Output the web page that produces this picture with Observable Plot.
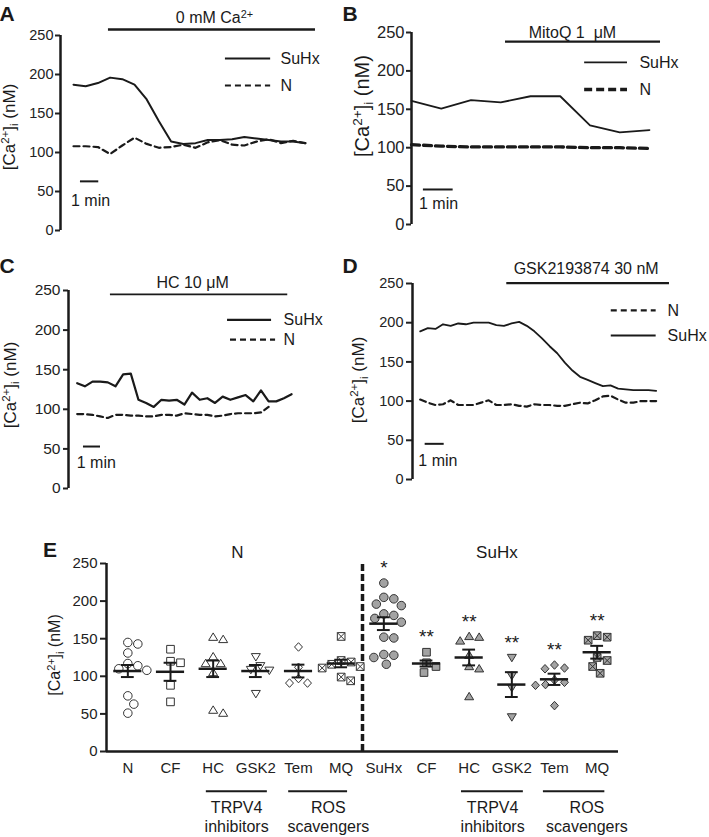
<!DOCTYPE html>
<html><head><meta charset="utf-8">
<script src="https://cdn.jsdelivr.net/npm/d3@7"></script>
<script src="https://cdn.jsdelivr.net/npm/@observablehq/plot@0.6"></script>
<style>
body{margin:0;background:#fff;}
#fig{position:relative;width:709px;height:837px;background:#fff;overflow:hidden;font-family:"Liberation Sans",Arial,Helvetica,sans-serif;}
.panel{position:absolute;}
</style></head>
<body><div id="fig"></div>
<script>
// ---------------- DATA ----------------
const yTicks = [0, 50, 100, 150, 200, 250];

// Panel A (0 mM Ca2+), sampled every 40 s
const aSuHx = [187,185,189,196,194,187,168,140,114,111,112,116,116,117,120,118,116,114,114,112];
const aN    = [108,108,107,98,109,119,111,106,107,110,106,113,116,110,109,114,117,112,115,112];
const aStep = 2/3;

// Panel B (MitoQ 1 uM), sampled every 1 min
const bSuHx = [161,151,162,159,167,167,129,120,123];
const bN    = [104,102,101,101,101,101,100,100,99];
const bStep = 1;

// Panel C (HC 10 uM)
const cSuHx = [133,129,135,135,134,129,144,145,112,108,103,112,111,112,106,121,112,114,108,116,112,115,118,110,124,110,110,114,119];
const cN    = [94,94,93,91,89,93,93,92,92,91,91,93,93,92,95,94,93,93,91,92,94,95,95,95,96,103];
const cStep = 0.44;

// Panel D (GSK2193874 30 nM)
const dSuHx = [189,193,192,198,196,199,198,200,200,200,197,196,199,201,196,189,180,170,161,149,139,131,127,123,119,120,116,115,114,114,114,113];
const dN    = [102,98,95,96,101,95,95,95,98,101,95,95,96,94,93,96,95,95,94,94,96,98,97,101,106,107,102,98,98,100,100,100];
const dStep = 0.4;

// Panel E
const eCategories = ["N","CF","HC","GSK2","Tem","MQ","SuHx","CF","HC","GSK2","Tem","MQ"];
const eN_N    = [145,143,131,117,114,110,108,74,63,51];
const eN_CF   = [136,120,118,88,66];
const eN_HC   = [152,149,126,117,117,105,55,51];
const eN_GSK2 = [126,114,109,108,77];
const eN_Tem  = [139,112,97,91,91];
const eN_MQ   = [153,121,119,116,113,111,99,94];
const eS_SuHx = [224,205,203,196,194,183,181,177,172,152,151,129,128,125,116];
const eS_CF   = [132,118,113,105];
const eS_HC   = [153,152,147,128,113,110,73];
const eS_GSK2 = [125,101,85,46];
const eS_Tem  = [115,111,110,95,92,89,88,61];
const eS_MQ   = [154,152,148,125,121,113,104];
const eMean = [107,106,110,107,107,117,170,117,125,89,96,132];
const eSem  = [8,12,11,8,8.5,5,8.5,4,10.5,16.5,7.5,8.5];
const eSig  = ["","","","","","","*","**","**","**","**","**"];
const eHeaders = ["N","SuHx"];
const eGroupLabels = ["TRPV4\ninhibitors","ROS\nscavengers","TRPV4\ninhibitors","ROS\nscavengers"];

// ---------------- HELPERS ----------------
const INK = "#1a1a1a";
const FONT = '"Liberation Sans", Arial, Helvetica, sans-serif';
const fig = document.getElementById("fig");
const YLABEL = "[Ca^{2+}]_{i} (nM)";

function richify(root) {
  root.querySelectorAll("text").forEach(t => {
    const s = t.textContent;
    if (!/[\^_]\{/.test(s)) return;
    const fsEl = t.closest("[font-size]");
    const fs = fsEl ? parseFloat(fsEl.getAttribute("font-size")) : 16;
    t.textContent = "";
    const re = /([\^_])\{([^}]*)\}/g;
    let last = 0, m, shift = 0;
    const add = (txt, kind) => {
      const ts = document.createElementNS("http://www.w3.org/2000/svg", "tspan");
      const target = kind === "^" ? -0.33 * fs : kind === "_" ? 0.22 * fs : 0;
      ts.setAttribute("dy", target - shift); shift = target;
      if (kind) ts.setAttribute("font-size", 0.68 * fs);
      ts.textContent = txt; t.appendChild(ts);
    };
    while ((m = re.exec(s))) {
      if (m.index > last) add(s.slice(last, m.index), null);
      add(m[2], m[1]); last = re.lastIndex;
    }
    if (last < s.length) add(s.slice(last), null);
  });
}

function place(svg, left, top) {
  const div = document.createElement("div");
  div.className = "panel";
  div.style.left = left + "px"; div.style.top = top + "px";
  div.appendChild(svg); fig.appendChild(div);
}

function addLabels(svg, p) {
  const s = d3.select(svg);
  s.append("text").attr("x", p.letter[0]).attr("y", p.letter[1])
    .attr("font-size", 21).attr("font-weight", "bold").attr("fill", INK)
    .attr("font-family", "Liberation Sans, Arial, sans-serif").text(p.letter[2]);
  s.append("text").attr("transform", `translate(${p.ylab[0]},${p.ylab[1]}) rotate(-90)`)
    .attr("text-anchor", "middle").attr("dy", "0.35em").attr("font-size", p.ylab[2])
    .attr("fill", INK).text(YLABEL);
}

function linePanel(p) {
  const marks = [
    Plot.axisY({ticks: yTicks, tickSize: p.tickSize, tickPadding: p.tickPad, fontSize: p.tickFont, color: "#222", strokeWidth: 2}),
    Plot.ruleX([p.xDomain[0]], {y1: 0, y2: 250, stroke: INK, strokeWidth: 2.5})
  ];
  for (const s of p.series) {
    const rows = s.values.map((v, i) => ({t: i * p.step, v}));
    marks.push(Plot.line(rows, {x: "t", y: "v", stroke: INK, strokeWidth: s.width, strokeDasharray: s.dash, strokeLinejoin: "round"}));
    marks.push(Plot.ruleY([s.legend], {y: "y", x1: "x1", x2: "x2", stroke: INK, strokeWidth: s.width, strokeDasharray: s.dash}));
    marks.push(Plot.text([s.legend], {x: "tx", y: "y", text: () => s.name, textAnchor: "start", fontSize: 16, fill: INK}));
  }
  marks.push(Plot.ruleY([p.title], {y: "y", x1: "x1", x2: "x2", stroke: INK, strokeWidth: p.title.width}));
  marks.push(Plot.text([p.title], {x: "tx", y: "ty", text: "label", fontSize: 16, fill: INK}));
  marks.push(Plot.ruleY([p.bar], {y: "y", x1: "x1", x2: "x2", stroke: INK, strokeWidth: 2}));
  marks.push(Plot.text([p.bar], {x: "tx", y: "ty", text: () => "1 min", fontSize: 16, fill: INK}));
  const svg = Plot.plot({
    width: p.width, height: p.height,
    marginTop: p.margin[0], marginRight: p.margin[1], marginBottom: p.margin[2], marginLeft: p.margin[3],
    x: {domain: p.xDomain, axis: null},
    y: {domain: [0, 250]},
    style: {fontFamily: FONT, fontSize: "16px", color: INK, background: "transparent", overflow: "visible"},
    marks
  });
  place(svg, p.left, p.top);
  addLabels(svg, p);
  richify(svg);
}

// ---------------- PANELS A–D ----------------
linePanel({
  left: 0, top: 0, width: 354, height: 240, margin: [35, 24, 10, 60],
  xDomain: [-0.71, 14.04], step: aStep, tickSize: 5, tickPad: 2, tickFont: 14.5,
  series: [
    {name: "SuHx", values: aSuHx, width: 2, dash: null, legend: {y: 220.5, x1: 8.3, x2: 10.77, tx: 11.31}},
    {name: "N", values: aN, width: 2.2, dash: "6,4", legend: {y: 185.9, x1: 8.3, x2: 10.77, tx: 11.31}}
  ],
  title: {label: "0 mM Ca^{2+}", y: 257.7, x1: 1.91, x2: 13.22, tx: 7.7, ty: 272, width: 2.3},
  bar: {y: 63, x1: 0.38, x2: 1.38, tx: 0.93, ty: 38.5},
  letter: [7, 21, "A"], ylab: [14.5, 127, 17]
});

linePanel({
  left: 354, top: 0, width: 355, height: 240, margin: [32, 9, 16, 57],
  xDomain: [0, 9.714], step: bStep, tickSize: 5, tickPad: 2, tickFont: 16.5,
  series: [
    {name: "SuHx", values: bSuHx, width: 1.8, dash: null, legend: {y: 211, x1: 5.82, x2: 7.26, tx: 7.66}},
    {name: "N", values: bN, width: 3.3, dash: "8,4", legend: {y: 175.8, x1: 5.82, x2: 7.26, tx: 7.66}}
  ],
  title: {label: "MitoQ 1 \u00a0\u03bcM", y: 238, x1: 3.16, x2: 8.37, tx: 5.41, ty: 249, width: 2.3},
  bar: {y: 45.6, x1: 0.4, x2: 1.4, tx: 0.91, ty: 27.3},
  letter: [-4, 21, "B"], ylab: [15, 106, 20]
});

linePanel({
  left: 0, top: 240, width: 354, height: 260, margin: [50, 24, 12, 68],
  xDomain: [-0.5, 14.557], step: cStep, tickSize: 5, tickPad: 3, tickFont: 15.5,
  series: [
    {name: "SuHx", values: cSuHx, width: 2.2, dash: null, legend: {y: 213, x1: 8.64, x2: 11.17, tx: 11.86}},
    {name: "N", values: cN, width: 2.2, dash: "6,4", legend: {y: 188, x1: 8.81, x2: 11.4, tx: 11.86}}
  ],
  title: {label: "HC 10 \u03bcM", y: 245, x1: 1.91, x2: 12.1, tx: 6.63, ty: 259, width: 1.8},
  bar: {y: 53, x1: 0.36, x2: 1.34, tx: 1.1, ty: 32},
  letter: [7, 33, "C"], ylab: [15.5, 145, 17]
});

linePanel({
  left: 354, top: 240, width: 355, height: 260, margin: [43, 9, 21, 58],
  xDomain: [-0.405, 14.73], step: dStep, tickSize: 6, tickPad: 3, tickFont: 14.5,
  series: [
    {name: "N", values: dN, width: 2.2, dash: "6,4", legend: {y: 215.6, x1: 10.04, x2: 12.4, tx: 13.0}},
    {name: "SuHx", values: dSuHx, width: 1.8, dash: null, legend: {y: 183.7, x1: 10.04, x2: 12.4, tx: 13.0}}
  ],
  title: {label: "GSK2193874 30 nM", y: 250.4, x1: 4.55, x2: 13.1, tx: 8.72, ty: 268.7, width: 2.3},
  bar: {y: 45.5, x1: 0.26, x2: 1.26, tx: 0.93, ty: 24},
  letter: [-4, 33, "D"], ylab: [10, 140, 17]
});

// ---------------- PANEL E ----------------
(function () {
  const W = 709, H = 297, M = [23, 91, 86, 106];
  const xppu = (W - M[1] - M[3]) / 12, yppu = (H - M[0] - M[2]) / 250;
  const sym = {
    circle: {draw(c, size) { const r = Math.sqrt(size / Math.PI) * 0.95; c.moveTo(r, 0); c.arc(0, 0, r, 0, 2 * Math.PI); }},
    square: {draw(c, size) { const h = Math.sqrt(size / Math.PI) * 0.85; c.rect(-h, -h, 2 * h, 2 * h); }},
    triUp: {draw(c, size) { const r = Math.sqrt(size / Math.PI); c.moveTo(0, -0.95 * r); c.lineTo(r, 0.7 * r); c.lineTo(-r, 0.7 * r); c.closePath(); }},
    triDown: {draw(c, size) { const r = Math.sqrt(size / Math.PI); c.moveTo(0, 0.95 * r); c.lineTo(r, -0.7 * r); c.lineTo(-r, -0.7 * r); c.closePath(); }},
    diamond: {draw(c, size) { const r = Math.sqrt(size / Math.PI); c.moveTo(0, -0.95 * r); c.lineTo(0.88 * r, 0); c.lineTo(0, 0.95 * r); c.lineTo(-0.88 * r, 0); c.closePath(); }},
    boxX: {draw(c, size) { const h = Math.sqrt(size / Math.PI) * 0.85; c.rect(-h, -h, 2 * h, 2 * h); c.moveTo(-h, -h); c.lineTo(h, h); c.moveTo(h, -h); c.lineTo(-h, h); }}
  };
  const groups = [
    {vals: eN_N, sym: sym.circle}, {vals: eN_CF, sym: sym.square}, {vals: eN_HC, sym: sym.triUp},
    {vals: eN_GSK2, sym: sym.triDown}, {vals: eN_Tem, sym: sym.diamond}, {vals: eN_MQ, sym: sym.boxX},
    {vals: eS_SuHx, sym: sym.circle}, {vals: eS_CF, sym: sym.square}, {vals: eS_HC, sym: sym.triUp},
    {vals: eS_GSK2, sym: sym.triDown}, {vals: eS_Tem, sym: sym.diamond}, {vals: eS_MQ, sym: sym.boxX}
  ];
  function swarm(values, minDist) {
    const order = d3.range(values.length).sort((a, b) => values[b] - values[a]);
    const placed = [], off = new Array(values.length).fill(0);
    for (const i of order) {
      const y = values[i] * yppu;
      for (let k = 0; k < 400; k++) {
        const c = (k % 2 ? 1 : -1) * Math.ceil(k / 2) * 0.5;
        if (placed.every(p => (p.x - c) ** 2 + (p.y - y) ** 2 >= minDist * minDist)) { off[i] = c; placed.push({x: c, y}); break; }
      }
    }
    return off;
  }
  const marks = [
    Plot.axisY({ticks: yTicks, tickSize: 6, tickPadding: 3, fontSize: 15, color: "#222", strokeWidth: 2}),
    Plot.axisX({ticks: d3.range(12), tickFormat: i => eCategories[i], tickSize: 0, tickPadding: 11, fontSize: 15, color: "#222"}),
    Plot.ruleX([-0.5], {y1: 0, y2: 250, stroke: INK, strokeWidth: 2.5}),
    Plot.ruleY([0], {x1: -0.5, x2: 11.5, stroke: INK, strokeWidth: 2.5}),
    Plot.ruleX([5.5], {y1: 0, y2: 250, stroke: INK, strokeWidth: 3.5, strokeDasharray: "7,3"})
  ];
  groups.forEach((g, gi) => {
    const off = swarm(g.vals, 10);
    const rows = g.vals.map((v, i) => ({x: gi + off[i] / xppu, y: v}));
    marks.push(Plot.dot(rows, {x: "x", y: "y", r: 4.5, symbol: g.sym, fill: gi < 6 ? "white" : "#a3a3a3", stroke: "#333", strokeWidth: 1}));
  });
  const summ = eMean.map((m, i) => ({i, mean: m, sem: eSem[i], sig: eSig[i], max: d3.max(groups[i].vals)}));
  marks.push(
    Plot.ruleY(summ, {y: "mean", x1: d => d.i - 0.33, x2: d => d.i + 0.33, stroke: INK, strokeWidth: 2.5}),
    Plot.ruleX(summ, {x: "i", y1: d => d.mean - d.sem, y2: d => d.mean + d.sem, stroke: INK, strokeWidth: 2}),
    Plot.ruleY(summ, {y: d => d.mean + d.sem, x1: d => d.i - 0.15, x2: d => d.i + 0.15, stroke: INK, strokeWidth: 2}),
    Plot.ruleY(summ, {y: d => d.mean - d.sem, x1: d => d.i - 0.15, x2: d => d.i + 0.15, stroke: INK, strokeWidth: 2}),
    Plot.text(summ.filter(d => d.sig), {x: "i", y: "max", text: "sig", dy: -15, fontSize: 19, fill: INK}),
    Plot.text(eHeaders.map((h, k) => ({h, x: k === 0 ? 2.57 : 8.65})), {x: "x", y: () => 264.6, text: "h", fontSize: 17, fill: INK})
  );
  const ann = [
    {x1: 1.84, x2: 3.27, tx: 2.55}, {x1: 3.77, x2: 5.15, tx: 4.70},
    {x1: 7.82, x2: 9.27, tx: 8.55}, {x1: 9.74, x2: 11.18, tx: 10.76}
  ].map((a, k) => ({...a, label: eGroupLabels[k]}));
  marks.push(
    Plot.ruleY(ann, {y: () => -53, x1: "x1", x2: "x2", stroke: INK, strokeWidth: 2}),
    Plot.text(ann, {x: "tx", y: () => -86.4, text: "label", fontSize: 16, lineHeight: 1.15, fill: INK})
  );
  const svg = Plot.plot({
    width: W, height: H, marginTop: M[0], marginRight: M[1], marginBottom: M[2], marginLeft: M[3],
    x: {domain: [-0.5, 11.5]}, y: {domain: [0, 250]},
    style: {fontFamily: FONT, fontSize: "16px", color: INK, background: "transparent", overflow: "visible"},
    marks
  });
  place(svg, 0, 540);
  addLabels(svg, {letter: [50, 17, "E"], ylab: [60, 115, 16]});
  richify(svg);
})();
</script>
</body></html>
